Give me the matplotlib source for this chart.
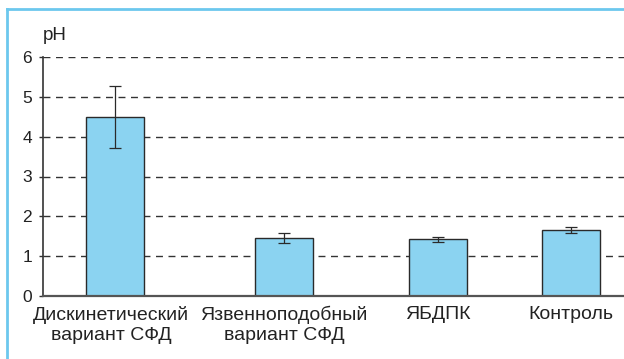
import matplotlib
matplotlib.use("Agg")
import matplotlib.pyplot as plt
from matplotlib.lines import Line2D
from matplotlib.transforms import ScaledTranslation

plt.rcParams['font.family'] = ['Liberation Sans', 'DejaVu Sans']

# Data
categories = ["Дискинетический\nвариант СФД", "Язвенноподобный\nвариант СФД", "ЯБДПК", "Контроль"]
ph_mean = [4.5, 1.45, 1.42, 1.65]
ph_err = [0.78, 0.12, 0.06, 0.07]
y_ticks = [0, 1, 2, 3, 4, 5, 6]

# Layout (bar centres along the axis, in bar widths)
positions = [1.24, 4.15, 6.80, 9.09]
bar_width = 1.0

W, H = 624, 359
fig = plt.figure(figsize=(W / 100, H / 100), dpi=100)

# Light blue frame along top and left
frame_col = "#6cc8ee"
fig.add_artist(Line2D([6.5 / W, 1.0], [1 - 9 / H, 1 - 9 / H], transform=fig.transFigure,
                      color=frame_col, lw=2))
fig.add_artist(Line2D([6.5 / W, 6.5 / W], [0, 1 - 9 / H], transform=fig.transFigure,
                      color=frame_col, lw=2))

ax = fig.add_axes([43 / W, 1 - 296 / H, (W - 43) / W, (296 - 57) / H])
ax.set_xlim(0, 10)
ax.set_ylim(0, 6)

for y in y_ticks[1:]:
    ax.axhline(y, color="#333333", lw=1.0, ls=(0, (5, 4)), zorder=1)

ax.bar(positions, ph_mean, width=bar_width, color="#8bd3f1", edgecolor="#2a2a2a",
       linewidth=1.0, zorder=2)
ax.errorbar(positions, ph_mean, yerr=ph_err, fmt="none", ecolor="#2a2a2a",
            elinewidth=0.9, capsize=4, capthick=0.9, zorder=3)

ax.set_yticks(y_ticks)
ax.set_yticklabels([str(v) for v in y_ticks], fontsize=12.5, color="#222222")
ax.set_xticks(positions)
ax.set_xticklabels(categories, fontsize=14, color="#222222", linespacing=1.25)
ax.tick_params(axis="x", length=0, pad=7)
ax.tick_params(axis="y", length=3, width=1, color="#333333", pad=5)

# nudge the first category label slightly left
first = ax.get_xticklabels()[0]
first.set_transform(first.get_transform() + ScaledTranslation(-4 / 100, 0, fig.dpi_scale_trans))

for s in ("top", "right"):
    ax.spines[s].set_visible(False)
ax.spines["left"].set_color("#333333")
ax.spines["left"].set_linewidth(1.2)
ax.spines["bottom"].set_color("#555555")
ax.spines["bottom"].set_linewidth(1.6)

fig.text(43 / W, 1 - 35 / H, "pH", fontsize=13.5, color="#222222", va="center", ha="left")

fig.savefig("out.png", dpi=100)
